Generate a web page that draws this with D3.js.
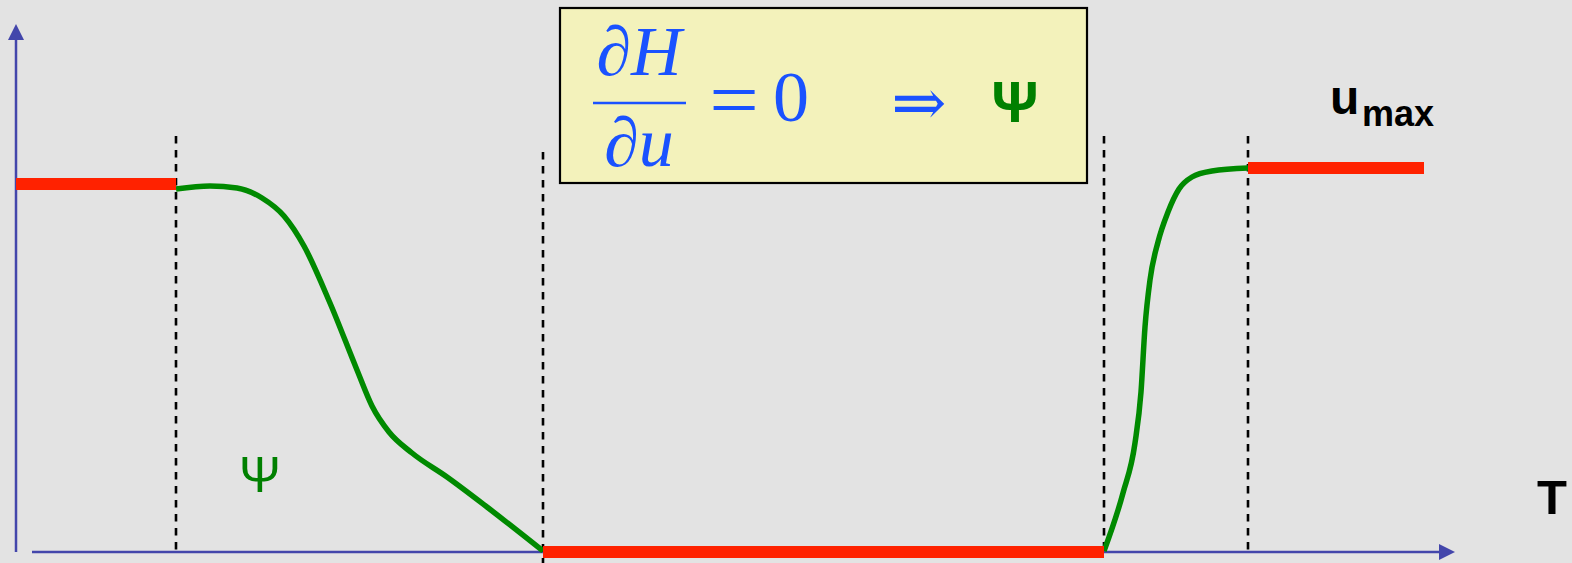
<!DOCTYPE html>
<html>
<head>
<meta charset="utf-8">
<script src="https://cdn.jsdelivr.net/npm/d3@7"></script>
<style>
  html, body { margin: 0; padding: 0; background: #e3e3e3; }
  svg { display: block; }
</style>
</head>
<body>
<svg id="chart" width="1572" height="563"></svg>
<script>
// ---- data (time t, control u) ----
const switchTimes = [160, 527, 1088, 1232];
const switchTops = [416, 400, 416, 416];
const switchBottoms = [0, -12, 0, 0];

// bang-bang arcs: [tStart, tEnd, u]
const redArcs = [
  [0, 160, 368],
  [527, 1088, 0],
  [1232, 1408, 384]
];

// singular arcs psi(t)
const psi1T = [160, 194, 221, 246, 268, 288, 314, 341, 356, 373, 396, 431, 471, 527];
const psi1U = [363, 366, 364, 354, 336, 306, 249, 182, 146, 120, 99, 75, 45, 1];
const psi2T = [1088, 1107, 1119, 1125, 1129, 1134, 1142, 1152, 1163, 1176, 1196, 1232];
const psi2U = [1, 59, 109, 160, 225, 272, 310, 340, 363, 375, 381, 384];

const axisEnds = { tMax: 1439, uMax: 528 };

// ---- scales ----
const x = d3.scaleLinear().domain([0, 1440]).range([16, 1456]);
const y = d3.scaleLinear().domain([0, 400]).range([552, 152]);

const svg = d3.select("#chart");
svg.append("rect").attr("width", 1572).attr("height", 563).attr("fill", "#e3e3e3");

const axisColor = "#4346ab";

// y axis
svg.append("line")
  .attr("x1", x(0)).attr("x2", x(0))
  .attr("y1", y(0)).attr("y2", y(axisEnds.uMax - 14))
  .attr("stroke", axisColor).attr("stroke-width", 2.5);
svg.append("path")
  .attr("d", `M${x(0)},${y(axisEnds.uMax)} L${x(0) - 8},${y(axisEnds.uMax - 16)} L${x(0) + 8},${y(axisEnds.uMax - 16)} Z`)
  .attr("fill", axisColor);

// x axis
svg.append("line")
  .attr("x1", x(16)).attr("x2", x(axisEnds.tMax - 14))
  .attr("y1", y(0)).attr("y2", y(0))
  .attr("stroke", axisColor).attr("stroke-width", 2.5);
svg.append("path")
  .attr("d", `M${x(axisEnds.tMax)},${y(0)} L${x(axisEnds.tMax - 16)},${y(0) - 8} L${x(axisEnds.tMax - 16)},${y(0) + 8} Z`)
  .attr("fill", axisColor);

// dashed switching lines
svg.selectAll(".sw").data(switchTimes).enter().append("line")
  .attr("x1", d => x(d)).attr("x2", d => x(d))
  .attr("y1", (d, i) => y(switchTops[i]))
  .attr("y2", (d, i) => y(switchBottoms[i]))
  .attr("stroke", "#000").attr("stroke-width", 2.6)
  .attr("stroke-dasharray", "7.5,6.5");

// green singular arcs
const line = d3.line().x(d => x(d[0])).y(d => y(d[1])).curve(d3.curveMonotoneX);
[[psi1T, psi1U], [psi2T, psi2U]].forEach(([ts, us]) => {
  svg.append("path")
    .attr("d", line(ts.map((t, i) => [t, us[i]])))
    .attr("fill", "none").attr("stroke", "#008a00").attr("stroke-width", 5.5)
    .attr("stroke-linecap", "butt");
});

// red bang arcs
svg.selectAll(".arc").data(redArcs).enter().append("line")
  .attr("x1", d => x(d[0])).attr("x2", d => x(d[1]))
  .attr("y1", d => y(d[2])).attr("y2", d => y(d[2]))
  .attr("stroke", "#ff2200").attr("stroke-width", 12);

// formula box
svg.append("rect")
  .attr("x", 560).attr("y", 8).attr("width", 527).attr("height", 175)
  .attr("fill", "#f3f2bb").attr("stroke", "#000").attr("stroke-width", 2.2);

const blue = "#1a52ff";
const serif = "'Liberation Serif', 'DejaVu Serif', serif";
svg.append("text").attr("x", 639).attr("y", 75).attr("text-anchor", "middle")
  .attr("font-family", serif).attr("font-style", "italic").attr("font-size", 70)
  .attr("fill", blue).text("∂H");
svg.append("line").attr("x1", 593).attr("x2", 686).attr("y1", 103).attr("y2", 103)
  .attr("stroke", blue).attr("stroke-width", 2.5);
svg.append("text").attr("x", 639).attr("y", 166).attr("text-anchor", "middle")
  .attr("font-family", serif).attr("font-style", "italic").attr("font-size", 70)
  .attr("fill", blue).text("∂u");
svg.append("text").attr("x", 734).attr("y", 127).attr("text-anchor", "middle")
  .attr("font-family", serif).attr("font-size", 80)
  .attr("fill", blue).attr("transform", "translate(734,0) scale(1.1,1) translate(-734,0)").text("=");
svg.append("text").attr("x", 791).attr("y", 121).attr("text-anchor", "middle")
  .attr("font-family", serif).attr("font-size", 72)
  .attr("fill", blue).text("0");
svg.append("text").attr("x", 919).attr("y", 125).attr("text-anchor", "middle")
  .attr("font-family", "'DejaVu Serif', serif").attr("font-size", 66)
  .attr("fill", blue).text("⇒");
svg.append("text").attr("x", 1015).attr("y", 122).attr("text-anchor", "middle")
  .attr("font-family", "'Liberation Sans', Arial, sans-serif").attr("font-weight", "bold").attr("font-size", 58)
  .attr("fill", "#008000").text("Ψ");

// labels
const sans = "'Liberation Sans', Arial, sans-serif";
svg.append("text").attr("x", 1330).attr("y", 114)
  .attr("font-family", sans).attr("font-weight", "bold").attr("font-size", 48)
  .attr("fill", "#000").text("u");
svg.append("text").attr("x", 1362).attr("y", 126)
  .attr("font-family", sans).attr("font-weight", "bold").attr("font-size", 36)
  .attr("fill", "#000").text("max");
svg.append("text").attr("x", 1537).attr("y", 514)
  .attr("font-family", sans).attr("font-weight", "bold").attr("font-size", 49)
  .attr("fill", "#000").text("T");
svg.append("text").attr("x", 260).attr("y", 492).attr("text-anchor", "middle")
  .attr("font-family", sans).attr("font-size", 50)
  .attr("fill", "#008000").text("Ψ");
</script>
</body>
</html>
